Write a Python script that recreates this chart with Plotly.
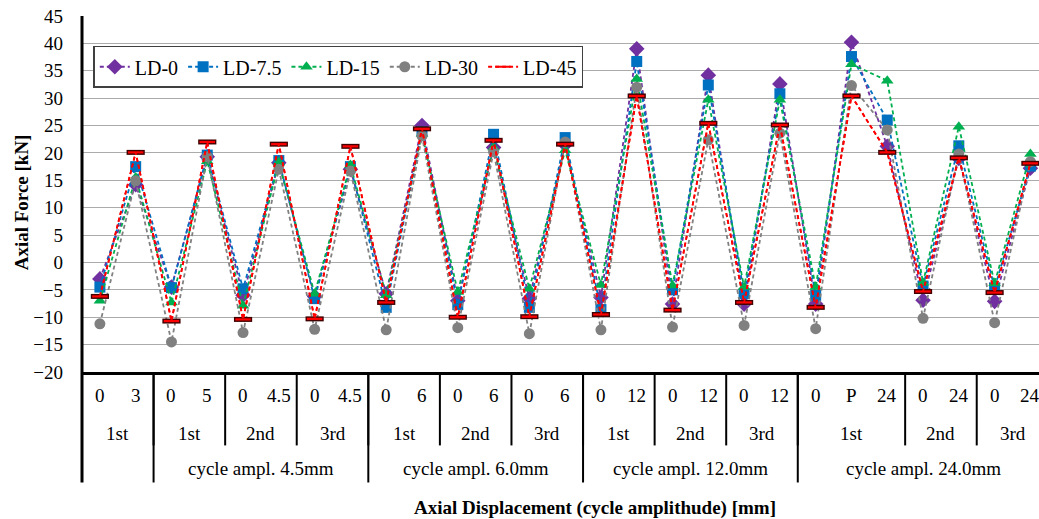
import plotly.graph_objects as go

# ---- data ----
disp_labels = ["0", "3", "0", "5", "0", "4.5", "0", "4.5", "0", "6", "0", "6", "0", "6",
               "0", "12", "0", "12", "0", "12", "0", "P", "24", "0", "24", "0", "24"]
cycle_labels = ["1st", "1st", "2nd", "3rd", "1st", "2nd", "3rd", "1st", "2nd", "3rd", "1st", "2nd", "3rd"]
cycle_spans = [(0, 1), (2, 3), (4, 5), (6, 7), (8, 9), (10, 11), (12, 13), (14, 15), (16, 17),
               (18, 19), (20, 22), (23, 24), (25, 26)]
ampl_labels = ["", "cycle ampl. 4.5mm", "cycle ampl. 6.0mm", "cycle ampl. 12.0mm", "cycle ampl. 24.0mm"]
ampl_spans = [(0, 1), (2, 7), (8, 13), (14, 19), (20, 26)]

ld0 = [-3.0, 14.2, -4.5, 19.3, -6.0, 18.2, -6.2, 17.0, -5.7, 25.0, -7.0, 21.0, -6.6, 21.5,
       -6.4, 39.0, -7.6, 34.2, -7.6, 32.6, -7.6, 40.2, 21.2, -6.9, 19.0, -7.1, 17.2]
ld75 = [-4.5, 17.5, -4.6, 19.6, -4.8, 18.6, -6.6, 17.5, -8.2, 23.9, -7.7, 23.4, -8.2, 22.8,
        -8.6, 36.7, -5.0, 32.4, -5.7, 30.8, -6.0, 37.6, 26.0, -4.3, 21.3, -4.7, 17.6]
ld15 = [-7.0, 15.5, -7.3, 18.5, -7.9, 18.3, -5.7, 17.8, -6.0, 23.5, -5.4, 21.0, -4.8, 20.5,
        -4.1, 33.5, -4.2, 29.7, -4.5, 29.7, -4.5, 36.2, 33.2, -3.7, 24.8, -3.8, 19.8]
ld30 = [-11.2, 14.9, -14.5, 19.3, -12.8, 17.0, -12.2, 16.7, -12.3, 23.1, -11.9, 20.2, -13.0, 22.0,
        -12.3, 32.0, -11.8, 22.4, -11.5, 23.6, -12.1, 32.3, 24.2, -10.2, 19.8, -11.0, 18.4]
ld45 = [-6.2, 20.1, -10.7, 22.0, -10.4, 21.6, -10.3, 21.2, -7.3, 24.4, -10.0, 22.3, -9.9, 21.6,
        -9.5, 30.4, -8.7, 25.4, -7.3, 25.1, -8.2, 30.4, 20.1, -5.3, 19.1, -5.5, 18.1]

x = list(range(len(disp_labels)))
FONT = "Liberation Serif"
DASH = "4px,3px"

fig = go.Figure()
series = [
    ("LD-0", ld0, "#7030A0", "diamond", 12),
    ("LD-7.5", ld75, "#0070C0", "square", 11),
    ("LD-15", ld15, "#00B050", "triangle-up", 11),
    ("LD-30", ld30, "#808080", "circle", 11),
]
for name, vals, col, sym, sz in series:
    fig.add_trace(go.Scatter(x=x, y=vals, name=name, mode="lines+markers",
                             line=dict(color=col, width=1.8, dash=DASH),
                             marker=dict(symbol=sym, size=sz, color=col, line=dict(width=0))))
# LD-45: red dash marker with dark outline
fig.add_trace(go.Scatter(x=x, y=ld45, name="LD-45", mode="lines", showlegend=False,
                         line=dict(color="#FF0000", width=1.8, dash=DASH)))
fig.add_trace(go.Scatter(x=x, y=ld45, name="LD-45", mode="markers", showlegend=False,
                         marker=dict(symbol="line-ew", size=13, line=dict(color="#400000", width=5))))
fig.add_trace(go.Scatter(x=x, y=ld45, name="LD-45", mode="lines+markers",
                         line=dict(color="#FF0000", width=1.8, dash=DASH),
                         marker=dict(symbol="line-ew", size=11, line=dict(color="#FF0000", width=2.2))))

L, T, W, H = 81.7, 16.3, 1039, 519
PB = 371.7
ph = PB - T
pw = W - L
def py(p):
    return -(p - PB) / ph

shapes = []
# left axis line extended through category rows
shapes.append(dict(type="line", xref="paper", yref="paper", x0=0, x1=0, y0=py(482), y1=1,
                   line=dict(color="black", width=3)))
for a, b in cycle_spans[1:]:
    shapes.append(dict(type="line", xref="x", yref="paper", x0=a - 0.5, x1=a - 0.5,
                       y0=py(445), y1=0, line=dict(color="black", width=2)))
for a, b in ampl_spans[1:]:
    shapes.append(dict(type="line", xref="x", yref="paper", x0=a - 0.5, x1=a - 0.5,
                       y0=py(482), y1=0, line=dict(color="black", width=2)))

ann = []
for i, t in enumerate(disp_labels):
    ann.append(dict(x=i, y=py(395), xref="x", yref="paper", text=t, showarrow=False,
                    xanchor="center", yanchor="middle",
                    font=dict(family=FONT, size=19, color="black")))
for t, (a, b) in zip(cycle_labels, cycle_spans):
    ann.append(dict(x=(a + b) / 2, y=py(433), xref="x", yref="paper", text=t, showarrow=False,
                    xanchor="center", yanchor="middle",
                    font=dict(family=FONT, size=19, color="black")))
for t, (a, b) in zip(ampl_labels, ampl_spans):
    if t:
        ann.append(dict(x=(a + b) / 2, y=py(468), xref="x", yref="paper", text=t, showarrow=False,
                        xanchor="center", yanchor="middle",
                        font=dict(family=FONT, size=19, color="black")))
ann.append(dict(x=(595 - L) / pw, y=py(507), xref="paper", yref="paper",
                xanchor="center", yanchor="middle",
                text="<b>Axial Displacement (cycle amplithude) [mm]</b>", showarrow=False,
                font=dict(family=FONT, size=19, color="black")))
ann.append(dict(x=-(L - 21) / pw, y=(PB - 202) / ph, xref="paper", yref="paper", textangle=-90,
                xanchor="center", yanchor="middle",
                text="<b>Axial Force [kN]</b>", showarrow=False,
                font=dict(family=FONT, size=19, color="black")))

fig.update_layout(
    width=W, height=H,
    margin=dict(l=L, r=0, t=T, b=H - PB, pad=0, autoexpand=False),
    paper_bgcolor="white", plot_bgcolor="white",
    font=dict(family=FONT, size=19, color="black"),
    showlegend=True,
    legend=dict(orientation="h", x=(93 - L) / pw, y=1 - (46 - T) / ph, xanchor="left", yanchor="top",
                bgcolor="white", bordercolor="#404040", borderwidth=1.5,
                font=dict(family=FONT, size=20, color="black"), itemwidth=30,
                tracegroupgap=0),
    shapes=shapes, annotations=ann,
)
fig.update_xaxes(range=[-0.5, 26.24], showticklabels=False, showgrid=False, zeroline=False,
                 showline=True, linecolor="black", linewidth=3, ticks="", automargin=False)
fig.update_yaxes(range=[-20, 45], dtick=5, tick0=-20, showgrid=True, gridcolor="#ababab", gridwidth=1.3,
                 zeroline=False, showline=False, ticks="", ticklabelstandoff=18, automargin=False,
                 tickfont=dict(family=FONT, size=19, color="black"))

fig.write_html("out.html", config={"displayModeBar": False},
               post_script="document.body.style.margin='0';document.body.style.overflow='hidden';")
